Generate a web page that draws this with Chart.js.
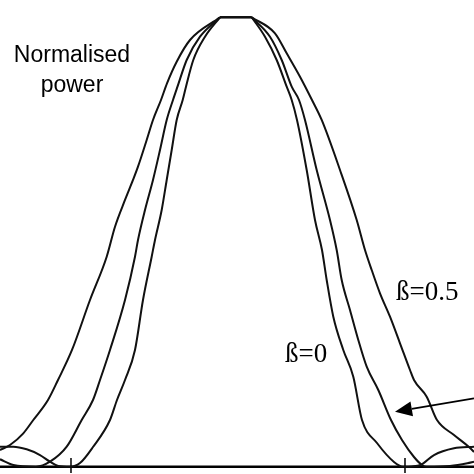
<!DOCTYPE html>
<html>
<head>
<meta charset="utf-8">
<script src="https://cdn.jsdelivr.net/npm/chart.js@4.4.1/dist/chart.umd.min.js"></script>
<style>
html,body{margin:0;padding:0;background:#fff;}
#wrap{width:474px;height:474px;position:relative;}
</style>
</head>
<body>
<div id="wrap"><canvas id="c"></canvas></div>
<script>
// Normalised frequency (first null of the narrowest curve at ±1) vs normalised power
const axisTitle = ['Normalised', 'power'];
const curveLabels = ['ß=0', 'ß=0.5'];
const nullTicks = [-1, 1];

// narrowest curve (ß=0), with its side lobes
const curveBeta0 = [
  [-1.4251,0.0445],[-1.3455,0.0445],[-1.2653,0.0387],[-1.1856,0.0260],[-1.1257,0.0111],
  [-1.0760,0.0016],[-1.0060,0],[-0.9461,0.0082],[-0.8683,0.0438],[-0.7665,0.1039],
  [-0.7246,0.1484],[-0.6766,0.1929],[-0.6168,0.2597],[-0.5689,0.3709],[-0.5168,0.4673],
  [-0.4970,0.5045],[-0.4569,0.5712],[-0.4269,0.6380],[-0.3970,0.7047],[-0.3671,0.7715],
  [-0.3311,0.8160],[-0.3114,0.8456],[-0.2677,0.9050],[-0.1976,0.9568],[-0.1078,1.0],
  [0.0820,1.0],[0.1617,0.9568],[0.2317,0.9050],[0.2916,0.8456],[0.3216,0.8160],
  [0.3533,0.7715],[0.4114,0.6602],[0.4611,0.5490],[0.5030,0.4822],[0.5311,0.4154],
  [0.5707,0.3338],[0.6305,0.2597],[0.6904,0.2003],[0.7425,0.1039],[0.8323,0.0527],
  [0.9341,0.0105],[0.9880,0],[1.0400,0.0005],[1.0940,0.0038],[1.1737,0.0260],
  [1.2934,0.0409],[1.4132,0.0445]
];

// middle curve
const curveMiddle = [
  [-1.4251,0.0165],[-1.3455,0.0038],[-1.2096,0],[-1.1257,0.0111],[-1.0257,0.0445],
  [-0.9359,0.1039],[-0.8683,0.1484],[-0.8263,0.1929],[-0.7665,0.2597],[-0.6766,0.3709],
  [-0.6168,0.4673],[-0.5988,0.5045],[-0.5569,0.5712],[-0.5090,0.6380],[-0.4671,0.7047],
  [-0.4269,0.7715],[-0.3892,0.8160],[-0.3623,0.8456],[-0.3072,0.9050],[-0.2275,0.9568],
  [-0.1078,1.0],[0.0820,1.0],[0.1916,0.9568],[0.2617,0.9050],[0.3216,0.8456],
  [0.3653,0.8160],[0.4012,0.7715],[0.4713,0.6602],[0.5509,0.5490],[0.5910,0.4822],
  [0.6210,0.4154],[0.6707,0.3487],[0.7204,0.2819],[0.7707,0.2225],[0.8401,0.1707],
  [0.9162,0.1039],[0.9820,0.0594],[1.0539,0.0216],[1.1018,0.0038],[1.1317,0],
  [1.2695,0.0016],[1.3731,0.0076],[1.4132,0.0111]
];

// widest curve (ß=0.5)
const curveBeta05 = [
  [-1.4251,0.0372],[-1.3653,0.0483],[-1.2856,0.0743],[-1.2257,0.1039],[-1.1377,0.1484],
  [-1.0778,0.1929],[-0.9940,0.2597],[-0.8862,0.3709],[-0.7862,0.4673],[-0.7365,0.5340],
  [-0.6766,0.5935],[-0.6287,0.6380],[-0.5988,0.6676],[-0.5467,0.7270],[-0.5090,0.7715],
  [-0.4611,0.8160],[-0.4251,0.8531],[-0.3671,0.9012],[-0.2874,0.9495],[-0.1078,1.0],
  [0.0820,1.0],[0.2216,0.9644],[0.2916,0.9199],[0.3713,0.8678],[0.4431,0.8160],
  [0.5012,0.7715],[0.6108,0.6602],[0.7108,0.5490],[0.7605,0.4822],[0.8006,0.4377],
  [0.8503,0.3858],[0.9102,0.3338],[0.9701,0.2746],[1.0299,0.2152],[1.0539,0.1929],
  [1.1299,0.1558],[1.1916,0.1039],[1.2934,0.0705],[1.3832,0.0438],[1.4132,0.0327]
];

const xMin = -1.4251, xMax = 1.4132;
const yMin = -0.01624, yMax = 1.0385;

const toPts = arr => arr.map(([x, y]) => ({x, y}));
const lineStyle = {borderColor:'#111', borderWidth:2, pointRadius:0, showLine:true, fill:false};

const datasets = [];
// each curve: smooth flanks, straight flat top (keeps the sharp corners of the original)
[[curveBeta0, curveLabels[0]], [curveMiddle, 'middle'], [curveBeta05, curveLabels[1]]].forEach(([curve, name]) => {
  const top = Math.max(...curve.map(p => p[1]));
  const first = curve.findIndex(p => p[1] === top);
  let last = first; while (last + 1 < curve.length && curve[last + 1][1] === top) last++;
  datasets.push(Object.assign({label:name, data:toPts(curve.slice(0, first + 1)), cubicInterpolationMode:'monotone'}, lineStyle));
  datasets.push(Object.assign({label:name, data:toPts(curve.slice(first, last + 1)), tension:0}, lineStyle));
  datasets.push(Object.assign({label:name, data:toPts(curve.slice(last)), cubicInterpolationMode:'monotone'}, lineStyle));
});
datasets.push(Object.assign({label:'axis', data:[{x:xMin,y:0},{x:xMax,y:0}], tension:0}, lineStyle, {borderWidth:2.5, borderColor:'#000'}));
nullTicks.forEach(t => {
  datasets.push(Object.assign({label:'tick', data:[{x:t,y:0.0194},{x:t,y:-0.0140}], tension:0}, lineStyle, {borderWidth:1.6}));
});

const annotations = {
  id:'annotations',
  afterDatasetsDraw(chart){
    const {ctx, scales:{x, y}} = chart;
    ctx.save();
    ctx.fillStyle = '#000';
    ctx.strokeStyle = '#000';
    ctx.textBaseline = 'alphabetic';
    ctx.font = '23px "Liberation Sans", Arial, sans-serif';
    ctx.textAlign = 'center';
    ctx.fillText(axisTitle[0], x.getPixelForValue(-0.994), y.getPixelForValue(0.9012));
    ctx.fillText(axisTitle[1], x.getPixelForValue(-0.994), y.getPixelForValue(0.8337));
    ctx.textAlign = 'left';
    ctx.font = '27px "Liberation Serif", "Times New Roman", serif';
    ctx.fillText(curveLabels[1], x.getPixelForValue(0.946), y.getPixelForValue(0.371));
    ctx.fillText(curveLabels[0], x.getPixelForValue(0.281), y.getPixelForValue(0.2336));
    // arrow to the middle curve
    const tx = x.getPixelForValue(1.4132), ty = y.getPixelForValue(0.1522);
    const hx = x.getPixelForValue(0.9401), hy = y.getPixelForValue(0.1224);
    const ang = Math.atan2(hy - ty, hx - tx);
    const L = 17, W = 7.5;
    const bx = hx - L * Math.cos(ang), by = hy - L * Math.sin(ang);
    ctx.lineWidth = 1.8;
    ctx.beginPath(); ctx.moveTo(tx, ty); ctx.lineTo(bx, by); ctx.stroke();
    ctx.beginPath();
    ctx.moveTo(hx, hy);
    ctx.lineTo(bx + W * Math.sin(ang), by - W * Math.cos(ang));
    ctx.lineTo(bx - W * Math.sin(ang), by + W * Math.cos(ang));
    ctx.closePath(); ctx.fill();
    ctx.restore();
  }
};

new Chart(document.getElementById('c'), {
  type:'scatter',
  data:{datasets},
  options:{
    responsive:true,
    maintainAspectRatio:false,
    animation:false,
    layout:{padding:0},
    plugins:{legend:{display:false}, tooltip:{enabled:false}},
    scales:{
      x:{type:'linear', min:xMin, max:xMax, display:false},
      y:{type:'linear', min:yMin, max:yMax, display:false}
    }
  },
  plugins:[annotations]
});
</script>
</body>
</html>
